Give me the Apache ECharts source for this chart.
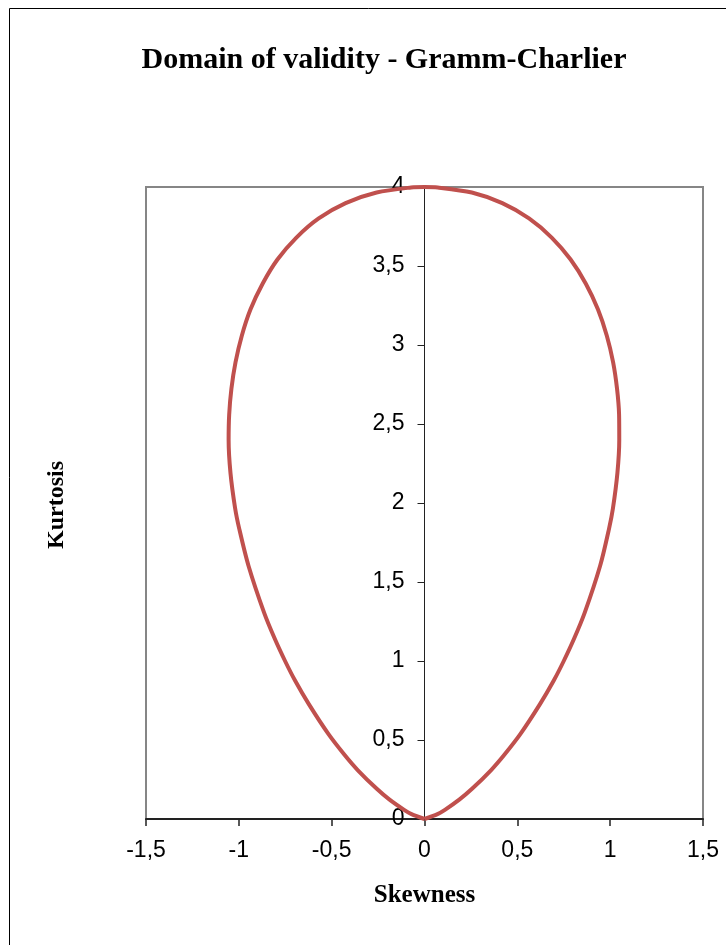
<!DOCTYPE html>
<html>
<head>
<meta charset="utf-8">
<script src="https://cdn.jsdelivr.net/npm/echarts@6/dist/echarts.min.js"></script>
<style>
html,body{margin:0;padding:0;background:#fff;}
#chart{width:726px;height:945px;}
</style>
</head>
<body>
<div id="chart"></div>
<script>
// Right branch of the boundary (from origin up to the top)
var kurtosisRight = [0, 0.031, 0.058, 0.124, 0.191, 0.310, 0.405, 0.537, 0.727, 0.878, 1.000, 1.142, 1.306, 1.603, 1.838, 1.967, 2.190, 2.400, 2.560, 2.723, 2.890, 3.059, 3.226, 3.388, 3.541, 3.680, 3.801, 3.898, 3.965, 3.997, 4.000];
var skewnessRight = [0, 0.070, 0.110, 0.189, 0.256, 0.359, 0.429, 0.516, 0.622, 0.697, 0.750, 0.806, 0.863, 0.946, 0.994, 1.015, 1.039, 1.049, 1.048, 1.037, 1.016, 0.982, 0.934, 0.869, 0.787, 0.685, 0.563, 0.419, 0.255, 0.071, 0];
// Left branch of the boundary (from the top down to origin)
var kurtosisLeft = [4.000, 3.997, 3.965, 3.898, 3.801, 3.680, 3.541, 3.388, 3.226, 3.059, 2.890, 2.723, 2.560, 2.400, 2.190, 1.967, 1.838, 1.603, 1.306, 1.142, 1.000, 0.878, 0.727, 0.537, 0.405, 0.310, 0.191, 0.124, 0.058, 0.031, 0];
var skewnessLeft = [0, -0.072, -0.258, -0.425, -0.570, -0.690, -0.792, -0.872, -0.937, -0.984, -1.018, -1.040, -1.052, -1.055, -1.045, -1.020, -0.998, -0.948, -0.864, -0.807, -0.751, -0.698, -0.623, -0.517, -0.430, -0.360, -0.257, -0.190, -0.110, -0.070, 0];

var xTicks = [-1.5, -1, -0.5, 0, 0.5, 1, 1.5];
var yTicks = [0, 0.5, 1, 1.5, 2, 2.5, 3, 3.5, 4];

var titleText = 'Domain of validity - Gramm-Charlier';
var xName = 'Skewness';
var yName = 'Kurtosis';

var points = [];
for (var i = 0; i < kurtosisRight.length; i++) points.push([skewnessRight[i], kurtosisRight[i]]);
for (var j = 1; j < kurtosisLeft.length; j++) points.push([skewnessLeft[j], kurtosisLeft[j]]);

function fmt(v) { return String(v).replace('.', ','); }

var gridLeft = 146, gridRight = 23;
var gridWidth = 726 - gridLeft - gridRight;
var zeroOffset = -gridWidth * (0 - xTicks[0]) / (xTicks[xTicks.length - 1] - xTicks[0]);

var chart = echarts.init(document.getElementById('chart'), null, {renderer: 'canvas'});
chart.setOption({
  animation: false,
  backgroundColor: '#ffffff',
  title: {
    text: titleText,
    left: 379,
    top: 40,
    textAlign: 'center',
    textStyle: {fontFamily: 'Liberation Serif', fontWeight: 'bold', fontSize: 30, color: '#000'}
  },
  graphic: [
    {type: 'rect', silent: true, z: -1, shape: {x: 9.5, y: 8.5, width: 900, height: 1200},
     style: {fill: 'none', stroke: '#000', lineWidth: 1}},
    {type: 'text', left: 45, top: 461, rotation: Math.PI / 2, silent: true,
     style: {text: yName, fontFamily: 'Liberation Serif', fontWeight: 'bold', fontSize: 24, fill: '#000'}}
  ],
  grid: {left: gridLeft, right: gridRight, top: 187, bottom: 126, show: true, borderColor: '#868686', borderWidth: 2, backgroundColor: 'transparent'},
  xAxis: {
    type: 'value', min: xTicks[0], max: xTicks[xTicks.length - 1], interval: 0.5,
    name: xName, nameLocation: 'middle', nameGap: 64,
    nameTextStyle: {fontFamily: 'Liberation Serif', fontWeight: 'bold', fontSize: 25, color: '#000'},
    axisLine: {onZero: false, lineStyle: {color: '#222', width: 2}},
    axisTick: {show: true, length: 7, inside: false, lineStyle: {color: '#222', width: 1.5}},
    axisLabel: {margin: 20, fontFamily: 'Liberation Sans', fontSize: 23, color: '#000', formatter: fmt},
    splitLine: {show: false}
  },
  yAxis: {
    type: 'value', min: yTicks[0], max: yTicks[yTicks.length - 1], interval: 0.5,
    offset: zeroOffset,
    axisLine: {onZero: false, lineStyle: {color: '#222', width: 1}},
    axisTick: {show: true, length: 7, inside: false, lineStyle: {color: '#222', width: 1}},
    axisLabel: {margin: 20, fontFamily: 'Liberation Sans', fontSize: 23, color: '#000', formatter: fmt},
    splitLine: {show: false}
  },
  series: [{
    type: 'line',
    data: points,
    smooth: 0.3,
    symbol: 'none',
    clip: true,
    lineStyle: {color: '#C0504D', width: 4}
  }]
});
</script>
</body>
</html>
